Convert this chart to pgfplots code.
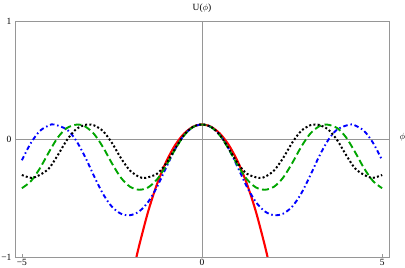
\documentclass[border=0pt]{standalone}
\usepackage{pgfplots}
\pgfplotsset{compat=1.18}
\usepackage{fontspec}
\setmainfont{Liberation Serif}
\definecolor{mgreen}{RGB}{0,165,0}
\definecolor{frameg}{RGB}{150,150,150}
\begin{document}
\begin{tikzpicture}
\begin{axis}[
  width=374bp, height=236bp, scale only axis,
  xmin=-5.19, xmax=5.19, ymin=-1, ymax=1,
  axis line style={frameg, line width=0.6pt},
  xtick={-5,0,5}, ytick={-1,0,1},
  xticklabels={−5,0,5}, yticklabels={−1,0,1},
  tick pos=left, tick align=inside,
  major tick length=3bp,
  tick style={frameg, line width=0.5pt},
  tick label style={font=\fontsize{9.5}{10}\selectfont, black},
  xticklabel style={yshift=1bp},
  clip=true,
]
\draw[frameg, line width=0.6pt] (axis cs:0,-1) -- (axis cs:0,1);
\draw[frameg, line width=0.6pt] (axis cs:-5.19,0) -- (axis cs:5.19,0);
% red
\addplot[red, line width=2.1pt, smooth] coordinates {
(-1.85,-1.0435) (-1.75,-0.9108) (-1.5,-0.6201) (-1.25,-0.3833) (-1,-0.196) (-0.75,-0.0542) (-0.5,0.0449) (-0.25,0.1036) (0,0.123)
(0.25,0.1036) (0.5,0.0449) (0.75,-0.0542) (1,-0.196) (1.25,-0.3833) (1.5,-0.6201) (1.75,-0.9108) (1.85,-1.0435)};
% blue dash-dot
\addplot[blue, line width=1.9pt, smooth, dash pattern=on 4.5bp off 2.8bp on 1.5bp off 2.8bp] coordinates {
(-5,-0.180) (-4.75,-0.034) (-4.5,0.068) (-4.25,0.115) (-4.1,0.123) (-3.75,0.080) (-3.5,-0.010) (-3.25,-0.148) (-3,-0.312) (-2.75,-0.464) (-2.5,-0.574) (-2.25,-0.633) (-2.0,-0.646) (-1.75,-0.615) (-1.5,-0.536) (-1.25,-0.407) (-1,-0.245) (-0.75,-0.088) (-0.5,0.032) (-0.25,0.101)
(0,0.123)
(0.25,0.101) (0.5,0.032) (0.75,-0.088) (1,-0.245) (1.25,-0.407) (1.5,-0.536) (1.75,-0.615) (2.0,-0.646) (2.25,-0.633) (2.5,-0.574) (2.75,-0.464) (3,-0.312) (3.25,-0.148) (3.5,-0.010) (3.75,0.080) (4.1,0.123) (4.25,0.115) (4.5,0.068) (4.75,-0.034) (5,-0.180)};
% green dashed
\addplot[mgreen, line width=1.9pt, smooth, dash pattern=on 7bp off 3.5bp] coordinates {
(-5,-0.417) (-4.75,-0.358) (-4.5,-0.249) (-4.25,-0.112) (-4,0.013) (-3.75,0.093) (-3.46,0.123) (-3.25,0.107) (-3,0.044) (-2.75,-0.068) (-2.5,-0.206) (-2.25,-0.328) (-2,-0.404) (-1.75,-0.430) (-1.5,-0.411) (-1.25,-0.343) (-1,-0.228) (-0.75,-0.090) (-0.5,0.029) (-0.25,0.101)
(0,0.123)
(0.25,0.101) (0.5,0.029) (0.75,-0.090) (1,-0.228) (1.25,-0.343) (1.5,-0.411) (1.75,-0.430) (2,-0.404) (2.25,-0.328) (2.5,-0.206) (2.75,-0.068) (3,0.044) (3.25,0.107) (3.46,0.123) (3.75,0.093) (4,0.013) (4.25,-0.112) (4.5,-0.249) (4.75,-0.358) (5,-0.417)};
% black dotted
\addplot[black, line width=2pt, smooth, dash pattern=on 2bp off 2.2bp] coordinates {
(-5,-0.305) (-4.725,-0.330) (-4.5,-0.304) (-4.25,-0.250) (-4,-0.136) (-3.75,-0.009) (-3.5,0.081) (-3.25,0.120) (-3.15,0.123) (-3,0.116) (-2.75,0.068) (-2.5,-0.033) (-2.25,-0.162) (-2,-0.267) (-1.75,-0.320) (-1.575,-0.330) (-1.25,-0.295) (-1,-0.209) (-0.75,-0.084) (-0.5,0.033) (-0.25,0.103)
(0,0.123)
(0.25,0.103) (0.5,0.033) (0.75,-0.084) (1,-0.209) (1.25,-0.295) (1.575,-0.330) (1.75,-0.320) (2,-0.267) (2.25,-0.162) (2.5,-0.033) (2.75,0.068) (3,0.116) (3.15,0.123) (3.25,0.120) (3.5,0.081) (3.75,-0.009) (4,-0.136) (4.25,-0.250) (4.5,-0.304) (4.725,-0.330) (5,-0.305)};
\end{axis}
\node[font=\fontsize{9.5}{10}\selectfont, anchor=south] at ([yshift=5bp]current axis.north) {U($\phi$)};
\node[font=\fontsize{9.5}{10}\selectfont, anchor=west] at ([xshift=7bp,yshift=1.5bp]current axis.east) {$\phi$};
\pgfresetboundingbox
\path (current axis.south west) ++(-15bp,-11bp) rectangle ([xshift=16bp,yshift=21bp]current axis.north east);
\end{tikzpicture}
\end{document}
